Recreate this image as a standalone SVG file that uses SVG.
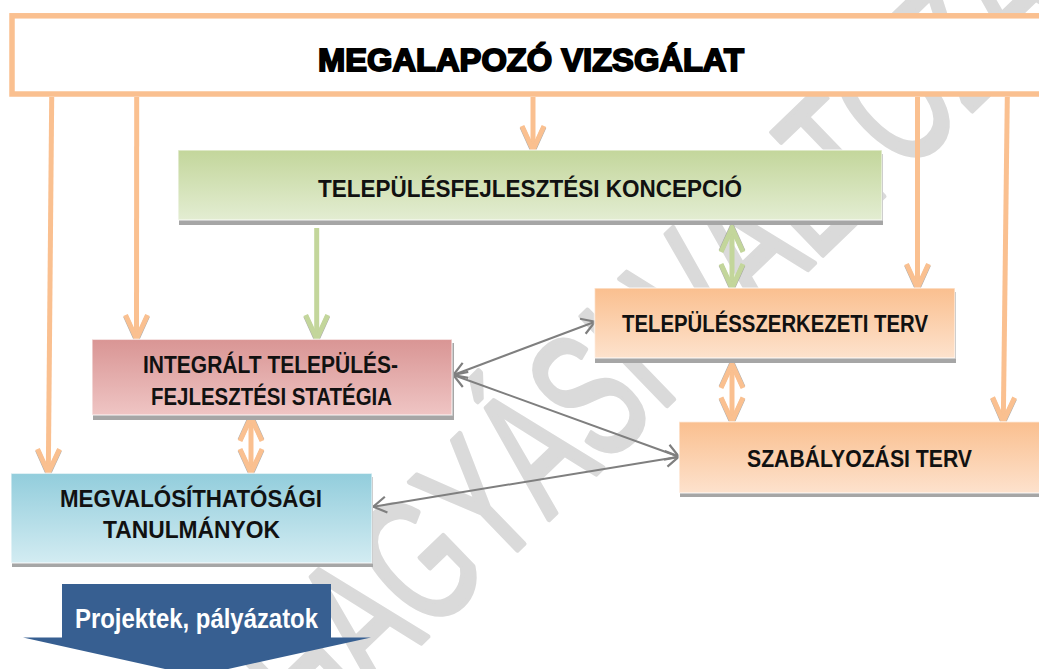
<svg xmlns="http://www.w3.org/2000/svg" width="1039" height="669" viewBox="0 0 1039 669">
<style>
.lbl{font-family:"Liberation Sans",Arial,sans-serif;font-weight:bold;fill:#111;text-anchor:middle}
.or{stroke:#fac090;stroke-width:5;fill:none}
.gr{stroke:#c3d69b;stroke-width:5;fill:none}
.cn{stroke:#7f7f7f;stroke-width:2;fill:none}
.shadow{fill:#a6a6a6}
.edge{stroke:#ffffff;stroke-opacity:0.6;stroke-width:1.5}
.wm{font-family:"Liberation Sans",Arial,sans-serif;font-size:180px;fill:#dadada;stroke:#dadada;stroke-width:5;stroke-linejoin:round}
</style>
<defs>
<linearGradient id="gGreen" x1="0" y1="0" x2="0" y2="1"><stop offset="0" stop-color="#c3d69b"/><stop offset="1" stop-color="#e3edd2"/></linearGradient>
<linearGradient id="gRed" x1="0" y1="0" x2="0" y2="1"><stop offset="0" stop-color="#d99594"/><stop offset="1" stop-color="#efc5c4"/></linearGradient>
<linearGradient id="gBlue" x1="0" y1="0" x2="0" y2="1"><stop offset="0" stop-color="#92cddc"/><stop offset="1" stop-color="#d3ecf2"/></linearGradient>
<linearGradient id="gOrange" x1="0" y1="0" x2="0" y2="1"><stop offset="0" stop-color="#fabf8f"/><stop offset="1" stop-color="#fde2cd"/></linearGradient>
<marker id="mOr" markerUnits="userSpaceOnUse" viewBox="-32 -16 40 32" refX="0" refY="0" markerWidth="40" markerHeight="32" orient="auto-start-reverse" overflow="visible">
<path d="M-23 -11 L1.5 0 L-23 11" fill="none" stroke="#8c8c8c" stroke-width="5" stroke-opacity="0.7"/>
<path d="M-24 -11 L0 0 L-24 11" fill="none" stroke="#fac090" stroke-width="5"/>
</marker>
<marker id="mGr" markerUnits="userSpaceOnUse" viewBox="-32 -16 40 32" refX="0" refY="0" markerWidth="40" markerHeight="32" orient="auto-start-reverse" overflow="visible">
<path d="M-23 -11 L1.5 0 L-23 11" fill="none" stroke="#8c8c8c" stroke-width="5" stroke-opacity="0.7"/>
<path d="M-24 -11 L0 0 L-24 11" fill="none" stroke="#c3d69b" stroke-width="5"/>
</marker>
<marker id="mCn" markerUnits="userSpaceOnUse" viewBox="-20 -12 24 24" refX="0" refY="0" markerWidth="24" markerHeight="24" orient="auto-start-reverse" overflow="visible">
<path d="M-13 -8 L0 0 L-13 8" fill="none" stroke="#7f7f7f" stroke-width="2.2"/>
</marker>
</defs>
<rect width="1039" height="669" fill="#ffffff"/>
<g id="watermark">
<text class="wm" transform="translate(97,956) rotate(-44) scale(0.64,1)" x="0" y="0">JÓVÁHAGYÁSI VÁLTOZAT</text>
</g>
<g id="connectors">
<line class="or" x1="51.7" y1="97" x2="48.3" y2="473" marker-end="url(#mOr)"/>
<line class="or" x1="136.7" y1="97" x2="136.5" y2="339" marker-end="url(#mOr)"/>
<line class="or" x1="533" y1="97" x2="533" y2="150" marker-end="url(#mOr)"/>
<line class="or" x1="917.5" y1="97" x2="917.5" y2="288" marker-end="url(#mOr)"/>
<line class="or" x1="1007.3" y1="97" x2="1003.3" y2="421.5" marker-end="url(#mOr)"/>
<line class="gr" x1="316.7" y1="228" x2="316.7" y2="339" marker-end="url(#mGr)"/>
<line class="gr" x1="732" y1="228" x2="732" y2="288" marker-start="url(#mGr)" marker-end="url(#mGr)"/>
<line class="or" x1="732" y1="364" x2="732" y2="421.5" marker-start="url(#mOr)" marker-end="url(#mOr)"/>
<line class="or" x1="251" y1="417" x2="251" y2="473" marker-start="url(#mOr)" marker-end="url(#mOr)"/>
<line class="cn" x1="453.3" y1="375" x2="595" y2="321.7" marker-start="url(#mCn)" marker-end="url(#mCn)"/>
<line class="cn" x1="453.3" y1="375" x2="679" y2="456.7" marker-start="url(#mCn)" marker-end="url(#mCn)"/>
<line class="cn" x1="373.3" y1="506.7" x2="679" y2="456.7" marker-start="url(#mCn)" marker-end="url(#mCn)"/>
</g>
<g id="megalapozo">
<rect x="12" y="15.8" width="1040" height="78.2" fill="#ffffff" stroke="#fac090" stroke-width="5.5"/>
<text class="lbl" x="531" y="71" font-size="31" textLength="426" lengthAdjust="spacingAndGlyphs" style="stroke:#000;stroke-width:1.8;fill:#000">MEGALAPOZÓ VIZSGÁLAT</text>
</g>
<g id="koncepcio">
<rect class="shadow" x="179" y="154" width="704" height="71"/>
<rect class="edge" x="178" y="150" width="704" height="70" fill="url(#gGreen)"/>
<text class="lbl" x="530" y="197" font-size="24" textLength="424" lengthAdjust="spacingAndGlyphs">TELEPÜLÉSFEJLESZTÉSI KONCEPCIÓ</text>
</g>
<g id="ites">
<rect class="shadow" x="93" y="343" width="361" height="77"/>
<rect class="edge" x="92" y="339.3" width="360" height="75.7" fill="url(#gRed)"/>
<text class="lbl" x="270.5" y="373" font-size="23.5" textLength="255" lengthAdjust="spacingAndGlyphs">INTEGRÁLT TELEPÜLÉS-</text>
<text class="lbl" x="271.5" y="405" font-size="23.5" textLength="241" lengthAdjust="spacingAndGlyphs">FEJLESZTÉSI STATÉGIA</text>
</g>
<g id="megvalosithatosagi">
<rect class="shadow" x="12" y="477" width="361" height="90"/>
<rect class="edge" x="11" y="473.3" width="361" height="89.7" fill="url(#gBlue)"/>
<text class="lbl" x="191" y="506.5" font-size="23.5" textLength="262" lengthAdjust="spacingAndGlyphs">MEGVALÓSÍTHATÓSÁGI</text>
<text class="lbl" x="191.5" y="538" font-size="23.5" textLength="177" lengthAdjust="spacingAndGlyphs">TANULMÁNYOK</text>
</g>
<g id="telepulesszerkezeti">
<rect class="shadow" x="595" y="292" width="361" height="71"/>
<rect class="edge" x="594.5" y="288" width="360.5" height="70" fill="url(#gOrange)"/>
<text class="lbl" x="775" y="331.7" font-size="24" textLength="306" lengthAdjust="spacingAndGlyphs">TELEPÜLÉSSZERKEZETI TERV</text>
</g>
<g id="szabalyozasi">
<rect class="shadow" x="680" y="426" width="370" height="71"/>
<rect class="edge" x="679" y="421.7" width="370" height="71.3" fill="url(#gOrange)"/>
<text class="lbl" x="859.5" y="466.7" font-size="24" textLength="225" lengthAdjust="spacingAndGlyphs">SZABÁLYOZÁSI TERV</text>
</g>
<g id="projektek">
<polygon points="62,584 331,584 331,637.5 371,637.5 196.5,676 23,637.5 62,637.5" fill="#375f91"/>
<text x="196.5" y="628" font-family="'Liberation Sans',Arial,sans-serif" font-weight="bold" font-size="27" fill="#ffffff" text-anchor="middle" textLength="243" lengthAdjust="spacingAndGlyphs">Projektek, pályázatok</text>
</g>
</svg>
